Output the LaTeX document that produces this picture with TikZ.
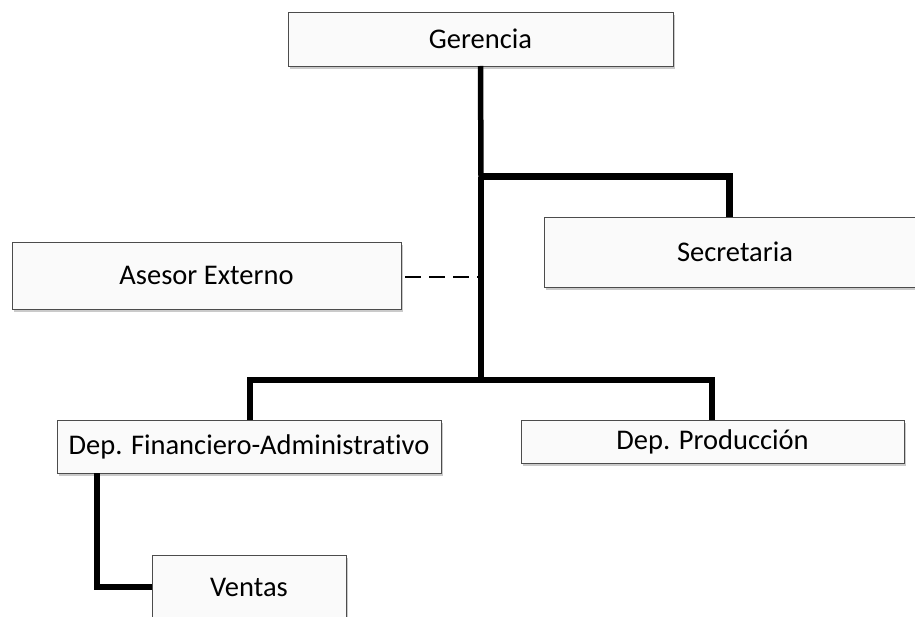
\documentclass[tikz,border=0pt]{standalone}
\usepackage{fontspec}
\setmainfont{Carlito}[Ligatures=NoCommon]
\usetikzlibrary{shadows}
\tikzset{
  box/.style={draw=black!70, line width=0.9pt, fill=white!98!black, inner sep=0pt, outer sep=0pt,
    font=\fontsize{28.5}{32}\selectfont,
    drop shadow={shadow xshift=1.5pt, shadow yshift=-3pt, opacity=0.35, fill=black!60}},
  conn/.style={line width=5.5pt, line join=miter, draw=black},
  thickconn/.style={line width=7pt, line join=miter, draw=black},
  dashconn/.style={line width=2pt, dash pattern=on 16pt off 8pt, draw=black}
}
\begin{document}
\begin{tikzpicture}[x=1pt, y=-1pt]
\useasboundingbox (0,0) rectangle (915,617);
\clip (0,0) rectangle (915,617);
% boxes
\node[box, minimum width=385pt, minimum height=54pt] (ger) at (480.5,39) {Gerencia};
\node[box, minimum width=389pt, minimum height=67pt] (ase) at (206.5,275.5) {Asesor Externo};
\node[box, minimum width=382pt, minimum height=70pt] (sec) at (735,252) {Secretaria};
\node[box, minimum width=384pt, minimum height=53pt] (fin) at (249,446.5) {Dep. Financiero-Administrativo};
\node[box, minimum width=383pt, minimum height=43pt] (pro) at (712.5,441.5) {Dep. Producción};
\node[box, minimum width=194pt, minimum height=64pt] (ven) at (249,587) {Ventas};
% junctions
\coordinate (jsec) at (481,177);
\coordinate (jase) at (481,277);
\coordinate (jbar) at (481,380);
\coordinate (finTop) at (250,420);
\coordinate (proTop) at (712,420);
\coordinate (secTop) at (729,217);
\coordinate (finOut) at (97,473);
\coordinate (aseOut) at (405,277);
% connectors
\draw[conn] (ger.south) -- (jsec);
\draw[conn] (jsec) -- (jbar);
\draw[thickconn] (jsec) -- (jsec -| secTop) -- (secTop);
\draw[dashconn] (aseOut) -- (jase);
\draw[conn] (finTop) -- (finTop |- jbar) -- (proTop |- jbar) -- (proTop);
\draw[conn] (finOut) -- (finOut |- ven.west) -- (ven.west);
\end{tikzpicture}
\end{document}
